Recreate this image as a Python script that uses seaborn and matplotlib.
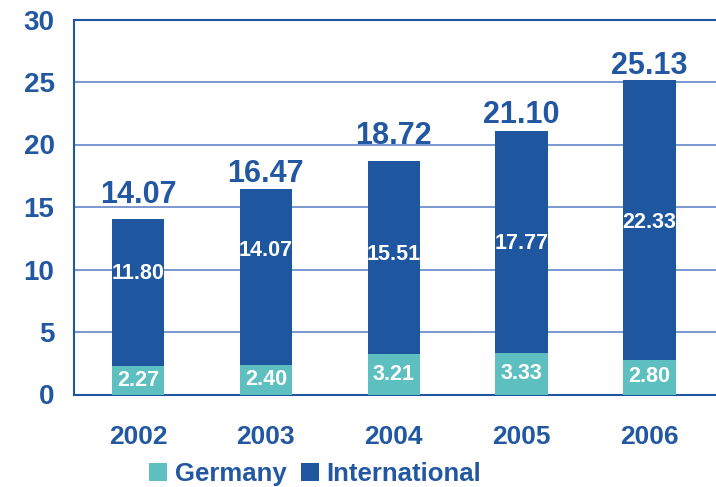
import matplotlib
matplotlib.use("Agg")
import matplotlib.pyplot as plt
import seaborn as sns
import pandas as pd
from matplotlib.patches import Patch

years = ["2002", "2003", "2004", "2005", "2006"]
germany = [2.27, 2.40, 3.21, 3.33, 2.80]
international = [11.80, 14.07, 15.51, 17.77, 22.33]
totals = [14.07, 16.47, 18.72, 21.10, 25.13]
yticks = [0, 5, 10, 15, 20, 25, 30]

# label placement (style only)
intl_label_y = [9.7, 11.5, 11.2, 12.1, 13.8]
total_label_gap = [1.28, 0.56, 1.36, 0.64, 0.48]

DARK = "#1f56a0"
TEAL = "#5dbfc0"
TXT = "#2257a1"
GRID = "#6f8fca"

sns.set_theme(style="white")
plt.rcParams["font.family"] = ["Liberation Sans", "DejaVu Sans"]
plt.rcParams["font.weight"] = "bold"

df = pd.DataFrame({"year": years, "germany": germany,
                   "international": international, "total": totals})
df["stack"] = df["germany"] + df["international"]

fig = plt.figure(figsize=(7.16, 4.87), dpi=100)
ax = fig.add_axes([74 / 716, (487 - 394.5) / 487, (716 - 74) / 716, (394.5 - 19.5) / 487])

ax.set_axisbelow(True)
for t in yticks[1:-1]:
    ax.axhline(t, color=GRID, lw=1.3, zorder=0)

sns.barplot(data=df, x="year", y="stack", color=DARK, width=0.41,
            saturation=1, linewidth=0, edgecolor="none", ax=ax, zorder=2)
sns.barplot(data=df, x="year", y="germany", color=TEAL, width=0.41,
            saturation=1, linewidth=0, edgecolor="none", ax=ax, zorder=3)

for i in range(len(years)):
    ax.text(i, totals[i] + total_label_gap[i], f"{totals[i]:.2f}", ha="center", va="baseline",
            color=TXT, fontsize=22, fontweight="bold")
    ax.text(i, intl_label_y[i], f"{international[i]:.2f}", ha="center", va="center",
            color="white", fontsize=15.5, fontweight="bold", zorder=5)
    ax.text(i, germany[i] / 2, f"{germany[i]:.2f}", ha="center", va="center",
            color="white", fontsize=15.5, fontweight="bold", zorder=5)

ax.set_ylim(0, 30)
ax.set_xlim(-0.5, 4.52)
ax.set_yticks(yticks)
ax.set_yticklabels([str(t) for t in yticks], color=TXT, fontsize=20, fontweight="bold")
ax.set_xticks(range(len(years)))
ax.set_xticklabels(years, color=TXT, fontsize=19, fontweight="bold")
ax.set_xticks([i + 0.5 for i in range(len(years) - 1)], minor=True)
ax.tick_params(axis="x", which="major", length=0, pad=22)
ax.tick_params(axis="x", which="minor", length=9, width=1.3, color=GRID, direction="out")
ax.tick_params(axis="y", which="major", length=9, width=1.3, color=GRID, direction="out", pad=5)
ax.set_xlabel("")
ax.set_ylabel("")

for s in ["left", "bottom", "top"]:
    ax.spines[s].set_visible(True)
    ax.spines[s].set_color(DARK)
    ax.spines[s].set_linewidth(1.5)
ax.spines["right"].set_visible(False)

handles = [Patch(facecolor=TEAL, edgecolor="none", label="Germany"),
           Patch(facecolor=DARK, edgecolor="none", label="International")]
leg = fig.legend(handles=handles, loc="center", bbox_to_anchor=(0.44, 0.026), ncol=2,
                 frameon=False, fontsize=18.5, handlelength=0.7, handleheight=0.7,
                 handletextpad=0.3, columnspacing=0.55, borderpad=0, borderaxespad=0)
for t in leg.get_texts():
    t.set_color(TXT)
    t.set_fontweight("bold")

fig.savefig("out.png", dpi=100)
